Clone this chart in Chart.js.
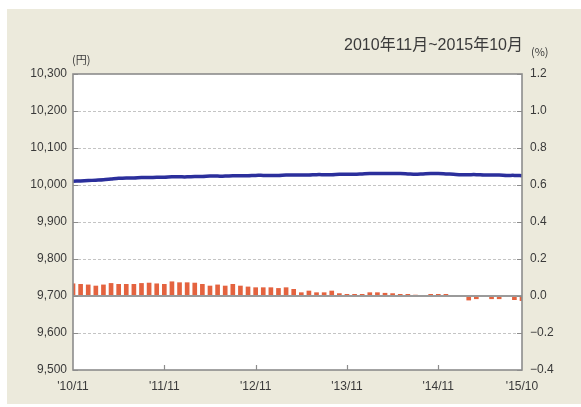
<!DOCTYPE html>
<html>
<head>
<meta charset="utf-8">
<script src="https://cdn.jsdelivr.net/npm/chart.js@4"></script>
<style>
  html, body { margin: 0; padding: 0; background: #fff; }
  canvas { display: block; }
</style>
</head>
<body>
<canvas id="chart" width="581" height="407"></canvas>
<script>
// Monthly categories, Nov 2010 .. Oct 2015
const months = [
    "'10/11", "'10/12",
    "'11/1", "'11/2", "'11/3", "'11/4", "'11/5", "'11/6", "'11/7", "'11/8", "'11/9", "'11/10", "'11/11", "'11/12",
    "'12/1", "'12/2", "'12/3", "'12/4", "'12/5", "'12/6", "'12/7", "'12/8", "'12/9", "'12/10", "'12/11", "'12/12",
    "'13/1", "'13/2", "'13/3", "'13/4", "'13/5", "'13/6", "'13/7", "'13/8", "'13/9", "'13/10", "'13/11", "'13/12",
    "'14/1", "'14/2", "'14/3", "'14/4", "'14/5", "'14/6", "'14/7", "'14/8", "'14/9", "'14/10", "'14/11", "'14/12",
    "'15/1", "'15/2", "'15/3", "'15/4", "'15/5", "'15/6", "'15/7", "'15/8", "'15/9", "'15/10"
];
const shownLabels = ["'10/11", "'11/11", "'12/11", "'13/11", "'14/11", "'15/10"];
const innerTickLabels = ["'11/11", "'12/11", "'13/11", "'14/11"];

// Price (yen), left axis
const price = [
    10010, 10011, 10012, 10013, 10014, 10016, 10018, 10019, 10019, 10020,
    10020, 10021, 10021, 10022, 10022, 10022, 10023, 10023, 10024, 10024,
    10024, 10025, 10025, 10025, 10026, 10026, 10026, 10026, 10027, 10027,
    10027, 10027, 10028, 10028, 10028, 10029, 10029, 10029, 10030, 10031,
    10031, 10031, 10031, 10031, 10030, 10029, 10030, 10031, 10031, 10030,
    10029, 10028, 10028, 10028, 10027, 10027, 10027, 10026, 10026, 10025
];

// Monthly rate (%), right axis
const rate = [
    0.066, 0.063, 0.060, 0.054, 0.060, 0.068, 0.063, 0.063, 0.063, 0.068,
    0.070, 0.066, 0.063, 0.077, 0.072, 0.072, 0.070, 0.063, 0.054, 0.060,
    0.054, 0.063, 0.054, 0.049, 0.045, 0.045, 0.045, 0.041, 0.045, 0.036,
    0.018, 0.027, 0.018, 0.018, 0.027, 0.013, 0.009, 0.009, 0.009, 0.018,
    0.018, 0.015, 0.013, 0.009, 0.009, 0.005, 0, 0.009, 0.009, 0.009,
    0, 0, -0.022, -0.015, 0, -0.015, -0.015, 0, -0.020, -0.025
];

const leftTicks = { min: 9500, max: 10300, step: 100 };
const rightTicks = { min: -0.4, max: 1.2, step: 0.2 };

const TEXT = '#3a3a3a';
const FRAME = '#8c8c8c';
const FONT = "'Liberation Sans', Arial, sans-serif";

// Panel background, frame, inner ticks and captions
const decor = {
    id: 'decor',
    beforeDraw(chart) {
        const { ctx, chartArea: a } = chart;
        ctx.save();
        ctx.fillStyle = '#fff';
        ctx.fillRect(0, 0, chart.width, chart.height);
        ctx.fillStyle = '#eceadc';
        ctx.fillRect(7, 9, chart.width - 7, 395);
        ctx.fillStyle = '#fff';
        ctx.fillRect(a.left, a.top, a.right - a.left, a.bottom - a.top);
        ctx.restore();
    },
    afterDatasetsDraw(chart) {
        const { ctx, chartArea: a } = chart;
        const y0 = Math.round(chart.scales.y2.getPixelForValue(0));
        ctx.save();
        ctx.strokeStyle = '#9a9a9a';
        ctx.lineWidth = 2;
        ctx.beginPath();
        ctx.moveTo(a.left, y0);
        ctx.lineTo(a.right, y0);
        ctx.stroke();
        ctx.restore();
    },
    afterDraw(chart) {
        const { ctx, chartArea: a } = chart;
        const y = chart.scales.y;
        const x = chart.scales.x;
        ctx.save();
        ctx.strokeStyle = FRAME;
        ctx.lineWidth = 1.6;
        ctx.strokeRect(a.left, a.top, a.right - a.left, a.bottom - a.top);

        // short ticks inside the frame
        ctx.lineWidth = 1.2;
        ctx.beginPath();
        y.ticks.forEach(t => {
            const py = Math.round(y.getPixelForValue(t.value)) + 0.5;
            ctx.moveTo(a.left, py); ctx.lineTo(a.left + 5, py);
            ctx.moveTo(a.right, py); ctx.lineTo(a.right - 5, py);
        });
        innerTickLabels.forEach(lbl => {
            const px = Math.round(x.getPixelForValue(months.indexOf(lbl))) + 0.5;
            ctx.moveTo(px, a.bottom); ctx.lineTo(px, a.bottom - 5);
        });
        ctx.stroke();

        // captions
        ctx.fillStyle = TEXT;
        ctx.textBaseline = 'middle';
        ctx.font = "16px 'Liberation Sans', 'Noto Sans CJK JP', sans-serif";
        ctx.textAlign = 'right';
        ctx.fillText('2010年11月~2015年10月', 523, 46);
        ctx.font = "11px 'Noto Sans CJK JP', sans-serif";
        ctx.textAlign = 'left';
        ctx.fillText('(円)', 72, 60);
        ctx.fillText('(%)', 531, 52);
        ctx.restore();
    }
};

const ctx = document.getElementById('chart').getContext('2d');
const chart = new Chart(ctx, {
    data: {
        labels: months,
        datasets: [
            {
                type: 'line', label: 'price', data: price, yAxisID: 'y',
                borderColor: '#2b2f9c', borderWidth: 3.5, pointRadius: 0,
                tension: 0.3, fill: false, order: 0
            },
            {
                type: 'bar', label: 'rate', data: rate, yAxisID: 'y2',
                backgroundColor: '#e4633f', barThickness: 4, order: 1
            }
        ]
    },
    options: {
        responsive: false,
        animation: false,
        layout: { padding: { top: 74, left: 0, right: 0, bottom: 0 } },
        plugins: { legend: { display: false }, tooltip: { enabled: false } },
        scales: {
            x: {
                type: 'category',
                offset: false,
                afterFit(s) { s.height = 37; },
                grid: { display: false, drawTicks: false },
                border: { display: false },
                ticks: {
                    autoSkip: false, maxRotation: 0, padding: 9,
                    color: TEXT, font: { family: FONT, size: 12 },
                    callback(v, i) { return shownLabels.includes(months[i]) ? months[i] : ''; }
                }
            },
            y: {
                position: 'left',
                min: leftTicks.min, max: leftTicks.max,
                afterFit(s) { s.width = 73; },
                grid: {
                    drawTicks: false, lineWidth: 1,
                    color: c => (c.tick && [leftTicks.min, leftTicks.max, 9700].includes(c.tick.value)) ? 'rgba(0,0,0,0)' : '#c4c4c4'
                },
                border: { display: false, dash: [3, 2] },
                ticks: {
                    stepSize: leftTicks.step, padding: 6,
                    color: TEXT, font: { family: FONT, size: 12 },
                    callback: v => v.toLocaleString('en-US')
                }
            },
            y2: {
                position: 'right',
                min: rightTicks.min, max: rightTicks.max,
                afterFit(s) { s.width = 59; },
                grid: { display: false, drawTicks: false },
                border: { display: false },
                ticks: {
                    stepSize: rightTicks.step, padding: 8,
                    color: TEXT, font: { family: FONT, size: 12 },
                    callback: v => Math.abs(v) < 1e-9 ? '0.0' : (v < 0 ? '−' : '') + Math.abs(v).toFixed(1)
                }
            }
        }
    },
    plugins: [decor]
});
</script>
</body>
</html>
